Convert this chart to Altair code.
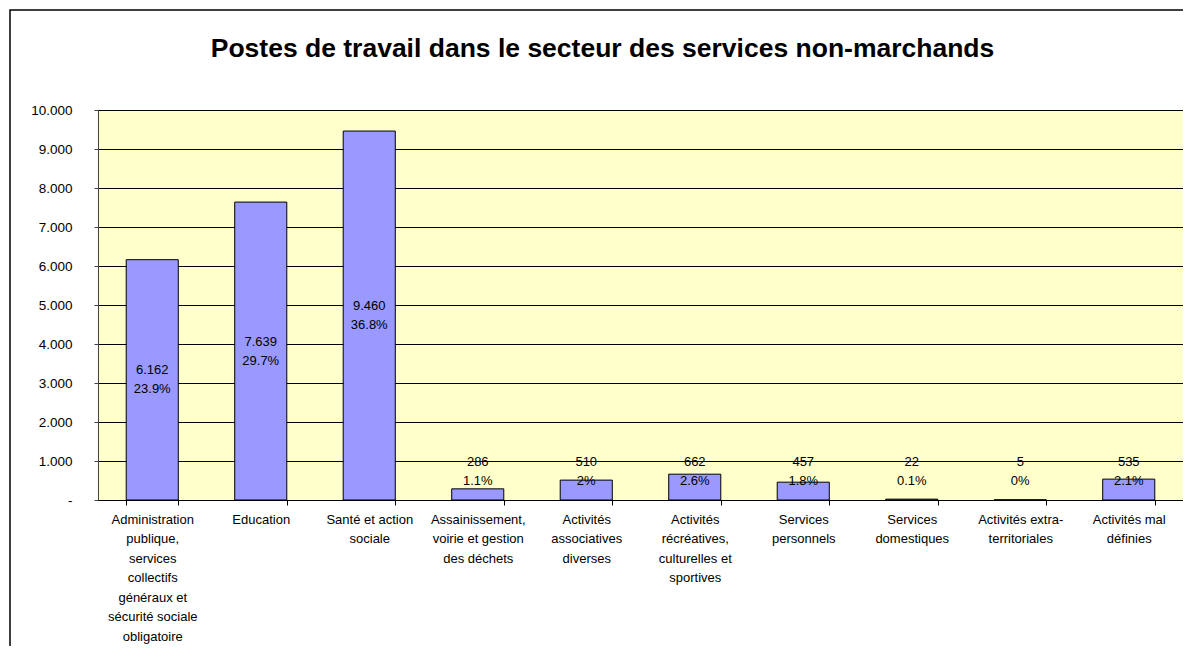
import altair as alt
import pandas as pd

categories = [
    "Administration\npublique,\nservices\ncollectifs\ngénéraux et\nsécurité sociale\nobligatoire",
    "Education",
    "Santé et action\nsociale",
    "Assainissement,\nvoirie et gestion\ndes déchets",
    "Activités\nassociatives\ndiverses",
    "Activités\nrécréatives,\nculturelles et\nsportives",
    "Services\npersonnels",
    "Services\ndomestiques",
    "Activités extra-\nterritoriales",
    "Activités mal\ndéfinies",
]
values = [6162, 7639, 9460, 286, 510, 662, 457, 22, 5, 535]
percents = ["23.9%", "29.7%", "36.8%", "1.1%", "2%", "2.6%", "1.8%", "0.1%", "0%", "2.1%"]
y_ticks = [0, 1000, 2000, 3000, 4000, 5000, 6000, 7000, 8000, 9000, 10000]
title_text = "Postes de travail dans le secteur des services non-marchands"

df = pd.DataFrame({"cat": categories, "value": values, "pct": percents})

FONT = "Liberation Sans"
W, H = 1085, 390

x_axis = alt.Axis(
    title=None,
    labelAngle=0,
    labelExpr="split(datum.label, '\\n')",
    labelLineHeight=19.5,
    labelFontSize=13,
    labelFont=FONT,
    labelColor="black",
    labelPadding=8,
    labelLimit=200,
    tickBand="extent",
    tickSize=5,
    tickColor="black",
    domainColor="black",
    grid=False,
)
x_scale = alt.Scale(paddingInner=0.52, paddingOuter=0.26)

y_axis = alt.Axis(
    title=None,
    values=y_ticks,
    labelOverlap=False,
    labelExpr="datum.value == 0 ? '-' : replace(format(datum.value, ','), ',', '.')",
    labelFontSize=13.5,
    labelFont=FONT,
    labelColor="black",
    labelPadding=22,
    tickSize=4,
    tickColor="#404040",
    domainColor="#404040",
    gridColor="black",
    gridWidth=1,
)
y_scale = alt.Scale(domain=[0, 10000], nice=False)

bars = alt.Chart(df).mark_bar(
    color="#9999FF", stroke="black", strokeWidth=1
).encode(
    x=alt.X("cat:N", sort=categories, scale=x_scale, axis=x_axis),
    y=alt.Y("value:Q", scale=y_scale, axis=y_axis),
)

lab_base = alt.Chart(df).transform_calculate(
    ly="max(datum.value / 2, 720)",
    vtxt="replace(format(datum.value, ','), ',', '.')",
)

val_text = lab_base.mark_text(
    font=FONT, fontSize=13, color="black", baseline="middle", dy=-9.5
).encode(
    x=alt.X("cat:N", sort=categories, scale=x_scale, axis=x_axis),
    y=alt.Y("ly:Q", scale=y_scale, axis=y_axis),
    text="vtxt:N",
)
pct_text = lab_base.mark_text(
    font=FONT, fontSize=13, color="black", baseline="middle", dy=9.5
).encode(
    x=alt.X("cat:N", sort=categories, scale=x_scale, axis=x_axis),
    y=alt.Y("ly:Q", scale=y_scale, axis=y_axis),
    text="pct:N",
)

frame = alt.Chart(alt.Data(values=[{}])).mark_rect(
    fill=None, stroke="black", strokeWidth=1.5
).encode(
    x=alt.value(-88), x2=alt.value(W + 200),
    y=alt.value(-100), y2=alt.value(H + 300),
)

chart = alt.layer(bars, val_text, pct_text, frame).properties(
    width=W,
    height=H,
    background="white",
    title=alt.Title(
        title_text, font=FONT, fontSize=26.5, fontWeight="bold",
        color="black", dx=-38, offset=-53, anchor="middle",
    ),
    autosize=alt.AutoSizeParams(type="none"),
    padding={"left": 90, "top": 102, "right": 0, "bottom": 146},
).configure_view(
    fill="#FFFFCC", stroke="#808080", strokeWidth=1
)

chart.save("out.html", embed_options={"renderer": "svg", "actions": False})
